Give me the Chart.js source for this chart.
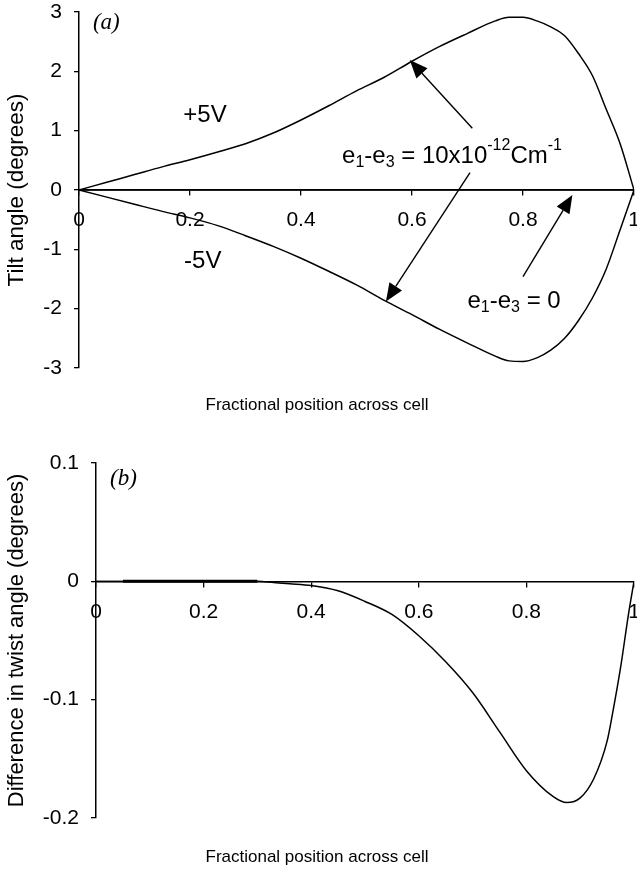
<!DOCTYPE html>
<html>
<head>
<meta charset="utf-8">
<script src="https://cdn.jsdelivr.net/npm/chart.js@4/dist/chart.umd.min.js"></script>
<style>
  html, body { margin: 0; padding: 0; background: #fff; }
  .wrap { position: relative; width: 637px; }
  canvas { display: block; }
</style>
</head>
<body>
<div class="wrap"><canvas id="chartA" width="637" height="425"></canvas></div>
<div class="wrap"><canvas id="chartB" width="637" height="445"></canvas></div>
<script>
// ---------- data ----------
const xTickValues = [0, 0.2, 0.4, 0.6, 0.8, 1];
const tiltTickValues = [-3, -2, -1, 0, 1, 2, 3];
const twistTickValues = [-0.2, -0.1, 0, 0.1];

const posPlus = [0, 0.05, 0.1, 0.15, 0.2, 0.25, 0.3, 0.35, 0.4, 0.45, 0.5, 0.55, 0.6, 0.65, 0.7, 0.75, 0.775, 0.8, 0.825, 0.85, 0.875, 0.9, 0.925, 0.95, 0.975, 1];
const plus5V  = [0, 0.13, 0.26, 0.39, 0.51, 0.64, 0.78, 0.96, 1.18, 1.42, 1.67, 1.9, 2.17, 2.42, 2.64, 2.85, 2.91, 2.91, 2.85, 2.75, 2.6, 2.3, 1.93, 1.36, 0.78, 0];

const posMinus = [0, 0.05, 0.1, 0.15, 0.2, 0.25, 0.3, 0.35, 0.4, 0.45, 0.5, 0.55, 0.6, 0.65, 0.7, 0.75, 0.775, 0.8, 0.825, 0.85, 0.875, 0.9, 0.925, 0.95, 0.975, 1];
const minus5V  = [0, -0.12, -0.24, -0.36, -0.47, -0.6, -0.77, -0.95, -1.15, -1.37, -1.6, -1.86, -2.1, -2.35, -2.58, -2.8, -2.88, -2.89, -2.83, -2.7, -2.5, -2.2, -1.82, -1.33, -0.67, 0];

const posZero = [0, 1];
const zeroE   = [0, 0];

const posB = [0, 0.05, 0.1, 0.15, 0.2, 0.25, 0.3, 0.33, 0.36, 0.4, 0.45, 0.5, 0.55, 0.6, 0.65, 0.7, 0.75, 0.8, 0.85, 0.875, 0.9, 0.925, 0.95, 0.96, 0.975, 0.99, 1];
const twistDiff = [0, 0, 0, 0, 0, 0, 0, -0.001, -0.002, -0.0035, -0.008, -0.017, -0.028, -0.046, -0.068, -0.094, -0.127, -0.16, -0.182, -0.187, -0.183, -0.167, -0.135, -0.112, -0.073, -0.027, 0];

// ---------- styling ----------
const SANS = '"Liberation Sans", Arial, sans-serif';
const SERIF = '"Liberation Serif", "Times New Roman", serif';
Chart.defaults.color = '#000';
Chart.defaults.font.family = SANS;

const pts = (xs, ys) => xs.map((x, i) => ({x: x, y: ys[i]}));

function lineDs(data, extra) {
  return Object.assign({
    data: data, borderColor: '#000', borderWidth: 1.5, pointRadius: 0,
    cubicInterpolationMode: 'monotone', fill: false
  }, extra || {});
}

// annotation plugin: texts and arrows placed in data coordinates
const notesPlugin = {
  id: 'notes',
  afterDatasetsDraw(chart, args, opts) {
    const ctx = chart.ctx, xs = chart.scales.x, ys = chart.scales.y;
    ctx.save();
    ctx.fillStyle = '#000';
    ctx.strokeStyle = '#000';
    ctx.lineWidth = 1.4;
    (opts.arrows || []).forEach(a => {
      const x1 = xs.getPixelForValue(a.from[0]), y1 = ys.getPixelForValue(a.from[1]);
      const x2 = xs.getPixelForValue(a.to[0]), y2 = ys.getPixelForValue(a.to[1]);
      const ang = Math.atan2(y2 - y1, x2 - x1);
      const hl = 18, hw = 7.5;
      const bx = x2 - hl * Math.cos(ang), by = y2 - hl * Math.sin(ang);
      ctx.beginPath(); ctx.moveTo(x1, y1); ctx.lineTo(bx, by); ctx.stroke();
      ctx.beginPath(); ctx.moveTo(x2, y2);
      ctx.lineTo(bx + hw * Math.sin(ang), by - hw * Math.cos(ang));
      ctx.lineTo(bx - hw * Math.sin(ang), by + hw * Math.cos(ang));
      ctx.closePath(); ctx.fill();
    });
    (opts.texts || []).forEach(t => {
      let x = xs.getPixelForValue(t.at[0]);
      const y = ys.getPixelForValue(t.at[1]);
      ctx.textBaseline = 'alphabetic';
      ctx.textAlign = 'left';
      let total = 0;
      t.parts.forEach(p => {
        ctx.font = (t.style || '') + ' ' + (p.s ? t.small : t.size) + 'px ' + (t.family || SANS);
        total += ctx.measureText(p.t).width;
      });
      if (t.align === 'center') x -= total / 2;
      t.parts.forEach(p => {
        ctx.font = (t.style || '') + ' ' + (p.s ? t.small : t.size) + 'px ' + (t.family || SANS);
        const dy = p.s === 'sub' ? 4 : (p.s === 'sup' ? -13 : 0);
        ctx.fillText(p.t, x, y + dy);
        x += ctx.measureText(p.t).width;
      });
    });
    ctx.restore();
  }
};

function xScale(tickPad) {
  return {
    type: 'linear', min: 0, max: 1, position: {y: 0},
    afterBuildTicks: s => { s.ticks = xTickValues.map(v => ({value: v})); },
    afterFit: s => { s.paddingLeft = 0; s.paddingRight = 0; },
    ticks: { font: {size: 21}, padding: tickPad, maxRotation: 0, autoSkip: false, callback: v => String(v) },
    grid: { drawOnChartArea: false, drawTicks: true, tickLength: 5, color: '#000', lineWidth: 1.3 },
    border: { display: true, color: '#000', width: 1.5 }
  };
}
function yScale(min, max, tickVals, title, width, titleSize, titlePad) {
  return {
    type: 'linear', min: min, max: max,
    afterBuildTicks: s => { s.ticks = tickVals.map(v => ({value: v})); },
    afterFit: s => { s.width = width; s.paddingTop = 0; s.paddingBottom = 0; },
    ticks: { font: {size: 21}, padding: 12, callback: v => String(v) },
    grid: { drawOnChartArea: false, drawTicks: true, tickLength: 5, color: '#000', lineWidth: 1.3 },
    border: { display: true, color: '#000', width: 1.5 },
    title: { display: true, text: title, font: {size: titleSize}, padding: {top: titlePad, bottom: 0} }
  };
}

// ---------- chart (a) ----------
new Chart(document.getElementById('chartA'), {
  type: 'line',
  data: {
    datasets: [
      lineDs(pts(posPlus, plus5V)),
      lineDs(pts(posMinus, minus5V)),
      lineDs(pts(posZero, zeroE), {cubicInterpolationMode: 'default'})
    ]
  },
  options: {
    responsive: false, animation: false, devicePixelRatio: 1,
    layout: { padding: {top: 12, right: 3, bottom: 0, left: 0} },
    scales: {
      x: xScale(13),
      y: yScale(-3, 3, tiltTickValues, 'Tilt angle (degrees)', 79, 22.5, 3.5)
    },
    plugins: {
      legend: {display: false}, tooltip: {enabled: false},
      title: { display: true, position: 'bottom', text: 'Fractional position across cell',
               font: {size: 17, weight: 'normal'}, padding: {top: 26.8, bottom: 9.8} },
      notes: {
        texts: [
          { at: [0.025, 2.72], parts: [{t: '(a)'}], size: 23, small: 23, family: SERIF, style: 'italic' },
          { at: [0.227, 1.14], parts: [{t: '+5V'}], size: 24, small: 16, align: 'center' },
          { at: [0.223, -1.31], parts: [{t: '-5V'}], size: 24, small: 16, align: 'center' },
          { at: [0.474, 0.455], size: 24, small: 16, parts: [
              {t: 'e'}, {t: '1', s: 'sub'}, {t: '-e'}, {t: '3', s: 'sub'}, {t: ' = 10x10'},
              {t: '-12', s: 'sup'}, {t: 'Cm'}, {t: '-1', s: 'sup'} ] },
          { at: [0.70, -1.99], size: 24, small: 16, parts: [
              {t: 'e'}, {t: '1', s: 'sub'}, {t: '-e'}, {t: '3', s: 'sub'}, {t: ' = 0'} ] }
        ],
        arrows: [
          { from: [0.7087, 1.04], to: [0.596, 2.19] },
          { from: [0.7045, 0.292], to: [0.553, -1.88] },
          { from: [0.80, -1.46], to: [0.889, -0.084] }
        ]
      }
    }
  },
  plugins: [notesPlugin]
});

// ---------- chart (b) ----------
new Chart(document.getElementById('chartB'), {
  type: 'line',
  data: {
    datasets: [
      lineDs(pts(posB, twistDiff), {
        segment: { borderWidth: c => (c.p0.parsed.x >= 0.05 && c.p1.parsed.x <= 0.3) ? 3 : 1.5 }
      })
    ]
  },
  options: {
    responsive: false, animation: false, devicePixelRatio: 1,
    layout: { padding: {top: 38, right: 3, bottom: 0, left: 0} },
    scales: {
      x: xScale(13),
      y: yScale(-0.2, 0.1, twistTickValues, 'Difference in twist angle (degrees)', 96, 22, 4)
    },
    plugins: {
      legend: {display: false}, tooltip: {enabled: false},
      title: { display: true, position: 'bottom', text: 'Fractional position across cell',
               font: {size: 17, weight: 'normal'}, padding: {top: 28.8, bottom: 2.8} },
      notes: {
        texts: [
          { at: [0.026, 0.081], parts: [{t: '(b)'}], size: 23, small: 23, family: SERIF, style: 'italic' }
        ],
        arrows: []
      }
    }
  },
  plugins: [notesPlugin]
});
</script>
</body>
</html>
